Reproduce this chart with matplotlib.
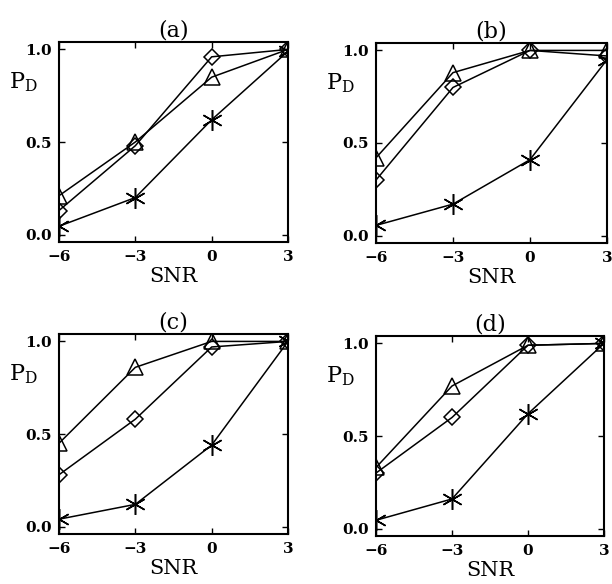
import numpy as np
import matplotlib.pyplot as plt

snr = [-6, -3, 0, 3]
panel_labels = ["(a)", "(b)", "(c)", "(d)"]

# P_D per panel: triangle, diamond, star series
tri = [
    [0.21, 0.50, 0.85, 1.00],
    [0.42, 0.88, 1.00, 1.00],
    [0.45, 0.86, 1.00, 1.00],
    [0.33, 0.77, 0.99, 1.00],
]
dia = [
    [0.13, 0.48, 0.96, 1.00],
    [0.30, 0.80, 1.00, 0.97],
    [0.28, 0.58, 0.97, 1.00],
    [0.30, 0.60, 0.99, 1.00],
]
star = [
    [0.045, 0.20, 0.62, 0.99],
    [0.055, 0.17, 0.41, 0.95],
    [0.04, 0.12, 0.44, 1.00],
    [0.045, 0.16, 0.62, 1.00],
]

# axes rectangles in pixels (left, top, right, bottom)
boxes = [(59, 42, 288, 242), (376, 43, 607, 243),
         (59, 334, 288, 534), (376, 336, 604, 536)]

W, H = 612, 584
fig = plt.figure(figsize=(W / 100, H / 100), dpi=100)

serif = "DejaVu Serif"

for i, (l, t, r, b) in enumerate(boxes):
    ax = fig.add_axes([l / W, 1 - b / H, (r - l) / W, (b - t) / H])
    ax.plot(snr, tri[i], color="black", lw=1.1, marker="^", ms=11,
            mfc="none", mec="black", mew=1.1)
    ax.plot(snr, dia[i], color="black", lw=1.1, marker="D", ms=8.5,
            mfc="none", mec="black", mew=1.1)
    ax.plot(snr, star[i], color="black", lw=1.1, marker=(6, 2, 0), ms=15,
            mec="black", mew=1.1)
    ax.set_xlim(-6, 3)
    ax.set_ylim(-0.04, 1.04)
    ax.set_xticks(snr)
    ax.set_xticklabels(["\u22126", "\u22123", "0", "3"])
    ax.set_yticks([0.0, 0.5, 1.0])
    ax.set_yticklabels(["0.0", "0.5", "1.0"])
    ax.tick_params(direction="in", top=True, right=True, length=4, width=1,
                   labelsize=11)
    ax.tick_params(axis="x", pad=6)
    ax.tick_params(axis="y", pad=5)
    for lab in ax.get_xticklabels() + ax.get_yticklabels():
        lab.set_fontweight("bold")
        lab.set_family(serif)
    for s in ax.spines.values():
        s.set_linewidth(1.5)
    ax.set_title(panel_labels[i], fontsize=16, family=serif, pad=4)
    ax.set_xlabel("SNR", fontsize=15, family=serif, labelpad=2)
    ax.annotate(r"$\mathregular{P_D}$", xy=(0, 0.80), xycoords="axes fraction",
                xytext=(-15, 0), textcoords="offset points",
                fontsize=16, family=serif, ha="right", va="center")

fig.savefig("out.png", dpi=100)
